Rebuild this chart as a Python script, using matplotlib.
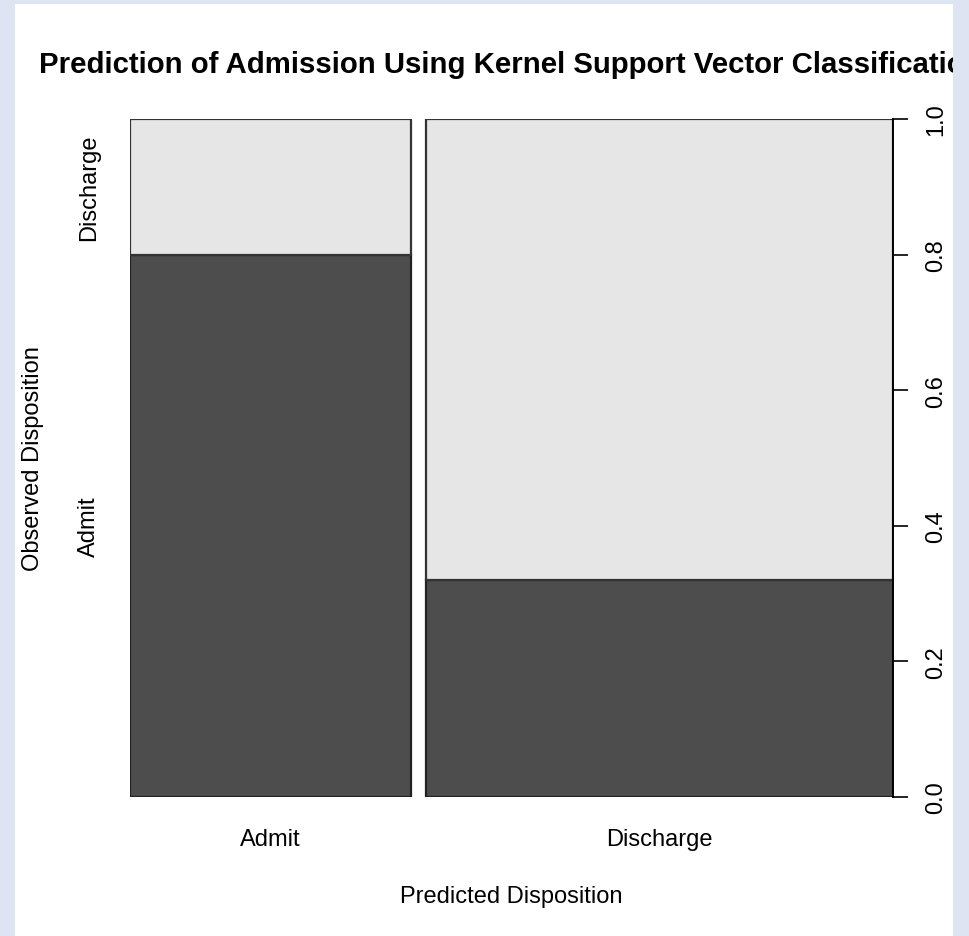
import matplotlib.pyplot as plt
from matplotlib.patches import Rectangle

# spineplot: amplada de columna = proporcio de prediccions,
# alcada de cada tram = proporcio observada dins la columna
predicted = ["Admit", "Discharge"]
observed = ["Admit", "Discharge"]
pred_share = [0.376, 0.624]
admit_frac = [0.80, 0.32]
gap = 0.02

dark = "#4d4d4d"
light = "#e6e6e6"
plt.rcParams["font.family"] = ["Liberation Sans", "DejaVu Sans"]

fig = plt.figure(figsize=(9.69, 9.37), dpi=100, facecolor="#dfe4f3")
W, H = 969, 937

# panell blanc, per sota de tot
fig.patches.append(Rectangle((15 / W, 0), (953 - 15) / W, 1 - 5 / H,
                             transform=fig.transFigure, facecolor="white",
                             edgecolor="none", zorder=-5))

ax = fig.add_axes([130 / W, 1 - 798 / H, (893 - 130) / W, (798 - 120) / H])
ax.set_facecolor("none")
ax.set_zorder(1)

left = 0.0
for name, share, frac in zip(predicted, pred_share, admit_frac):
    ax.bar(left, frac, width=share, bottom=0, align="edge",
           color=dark, edgecolor="#222222", linewidth=1.6)
    ax.bar(left, 1 - frac, width=share, bottom=frac, align="edge",
           color=light, edgecolor="#333333", linewidth=1.6)
    ax.text(left + share / 2, -0.062, name,
            ha="center", va="center", fontsize=17)
    left += share + gap

ax.set_xlim(0, 1 + gap)
ax.set_ylim(0, 1)
for s in ["top", "bottom", "left"]:
    ax.spines[s].set_visible(False)
ax.spines["right"].set_linewidth(1.4)
ax.set_xticks([])
ax.yaxis.tick_right()
ax.set_yticks([0, 0.2, 0.4, 0.6, 0.8, 1.0])
ax.set_yticklabels(["0.0", "0.2", "0.4", "0.6", "0.8", "1.0"],
                   rotation=90, va="center", ha="left", fontsize=17)
ax.tick_params(axis="y", length=11, width=1.2, pad=12)

# etiquetes de l'eix observat, centrades al tram de la primera columna
ax.text(-0.055, admit_frac[0] / 2, observed[0], rotation=90,
        ha="center", va="center", fontsize=17)
ax.text(-0.055, (1 + admit_frac[0]) / 2, observed[1], rotation=90,
        ha="center", va="center", fontsize=17)

fig.text(33 / W, 1 - 459 / H, "Observed Disposition", rotation=90,
         ha="center", va="center", fontsize=17)
fig.text(511 / W, 1 - 897 / H, "Predicted Disposition",
         ha="center", va="center", fontsize=17)
fig.text(511 / W, 1 - 73 / H,
         "Prediction of Admission Using Kernel Support Vector Classification",
         ha="center", va="baseline", fontsize=21.2, fontweight="bold",
         zorder=1)

# la vora lila de la dreta talla el titol
fig.patches.append(Rectangle((953 / W, 0), 1, 1, transform=fig.transFigure,
                             facecolor="#dfe4f3", edgecolor="none", zorder=5))

fig.savefig("out.png", dpi=100, facecolor=fig.get_facecolor())
